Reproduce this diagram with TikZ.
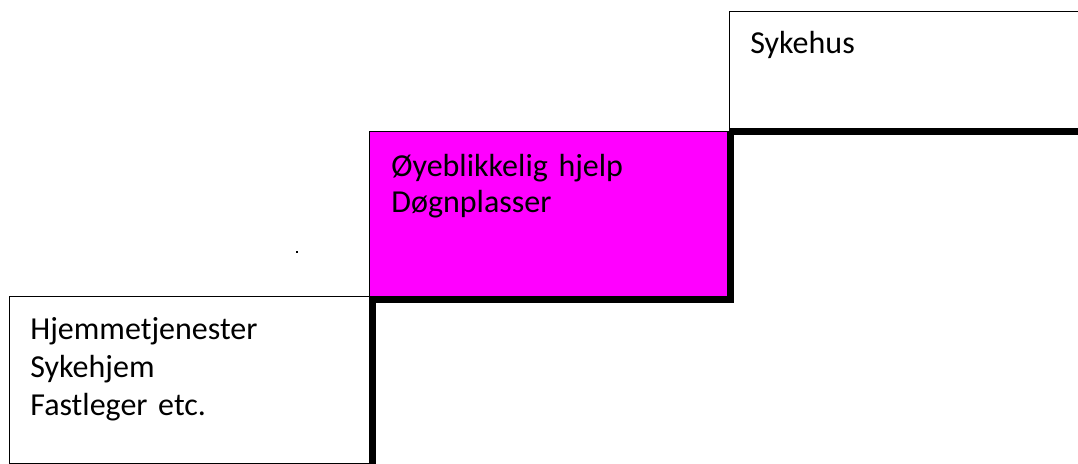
\documentclass[tikz,border=0pt]{standalone}
\usepackage{fontspec}
\setmainfont{Carlito}
\usepackage{xcolor}
\definecolor{akutt}{HTML}{FF00FF}

\tikzset{
  stepbox/.style={draw=black, line width=0.6pt, fill=white, anchor=north west, inner sep=0pt},
  stepshade/.style={draw=black, line width=3pt, line join=miter},
  boxtext/.style={anchor=base west, inner sep=0pt, text width=170pt, align=left,
    font=\fontsize{16}{19}\selectfont}
}

\begin{document}
\begin{tikzpicture}[x=0.5pt, y=-0.5pt]
    \useasboundingbox (0,0) rectangle (1078,464);
    \clip (0,0) rectangle (1078,464);

    % first step: the municipal services
    \node[stepbox, minimum width=180pt, minimum height=83.5pt] (hjem) at (9,296) {};
    \draw[stepshade] ([yshift=-1.5pt]hjem.south west) -| ([xshift=1.5pt]hjem.north east);
    \node[boxtext] (hjemtekst) at (30,340) {Hjemmetjenester\\Sykehjem\\Fastleger etc.};

    % second step: the emergency beds
    \node[stepbox, fill=akutt, minimum width=179pt, minimum height=82.5pt] (akutt) at (369,131) {};
    \draw[stepshade] ([yshift=-1.5pt]akutt.south west) -| ([xshift=1.5pt]akutt.north east);
    \node[boxtext, font=\fontsize{16}{18}\selectfont] (akutttekst) at (391,177) {Øyeblikkelig hjelp\\Døgnplasser};

    % third step: the hospital
    \node[stepbox, minimum width=200pt, minimum height=58.5pt] (sykehus) at (729,11) {};
    \draw[stepshade] ([yshift=-1.5pt]sykehus.south west) -| ([xshift=1.5pt]sykehus.north east);
    \node[boxtext] (sykehustekst) at (750,54) {Sykehus};

    % the stray dot
    \fill (296,251) rectangle (298,253);

\end{tikzpicture}
\end{document}
